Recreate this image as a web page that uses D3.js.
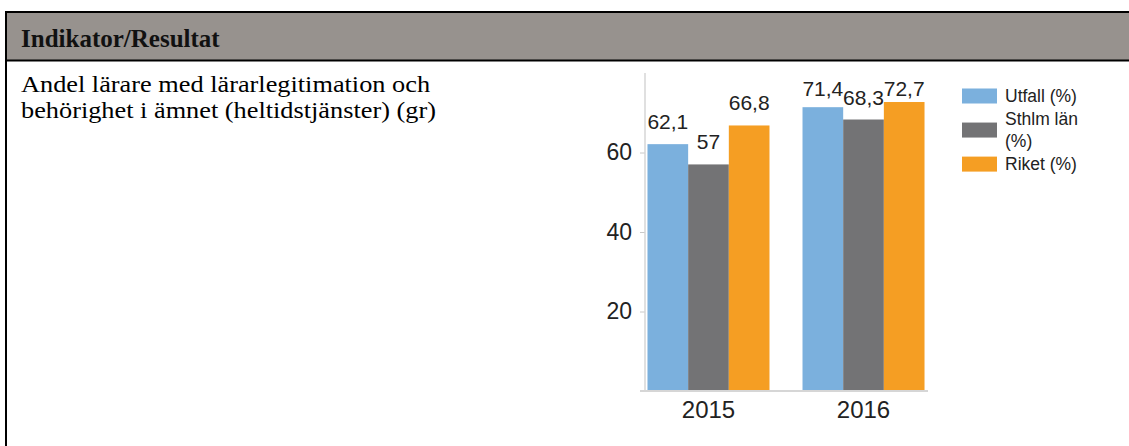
<!DOCTYPE html>
<html>
<head>
<meta charset="utf-8">
<script src="https://cdn.jsdelivr.net/npm/d3@7"></script>
<style>
    body { margin: 0; background: #fff; }
    svg { display: block; }
</style>
</head>
<body>
<svg width="1129" height="446"></svg>
<script>
var years = ["2015", "2016"];
var seriesNames = ["Utfall (%)", "Sthlm län (%)", "Riket (%)"];
var utfall = [62.1, 71.4];
var sthlm = [57, 68.3];
var riket = [66.8, 72.7];
var yTicks = [20, 40, 60];
var legendLines = [["Utfall (%)"], ["Sthlm län", "(%)"], ["Riket (%)"]];
var colors = ["#7bb0dd", "#737375", "#f59e23"];

window.onload = main;

function main() {
    var svg = d3.select("svg");
    var sv = d3.formatLocale({ decimal: ",", thousands: " ", grouping: [3], currency: ["", " kr"] });
    var fmt = sv.format("~g");

    // table look
    svg.append("rect").attr("x", 6).attr("y", 12).attr("width", 1130).attr("height", 48)
        .attr("fill", "#97928e");
    svg.append("line").attr("x1", 5).attr("x2", 1129).attr("y1", 12).attr("y2", 12)
        .attr("stroke", "#000").attr("stroke-width", 2);
    svg.append("line").attr("x1", 5).attr("x2", 1129).attr("y1", 60.5).attr("y2", 60.5)
        .attr("stroke", "#000").attr("stroke-width", 2);
    svg.append("line").attr("x1", 6).attr("x2", 6).attr("y1", 11).attr("y2", 446)
        .attr("stroke", "#000").attr("stroke-width", 2);

    svg.append("text").attr("x", 21).attr("y", 47)
        .style("font", "bold 25px 'Liberation Serif', 'Times New Roman', serif")
        .attr("fill", "#111").text("Indikator/Resultat");

    // cell text, a little wider than Liberation Serif
    var desc = ["Andel lärare med lärarlegitimation och", "behörighet i ämnet (heltidstjänster) (gr)"];
    svg.append("g").attr("transform", "translate(21,0) scale(1.12,1)")
        .selectAll("text").data(desc).enter().append("text")
        .attr("x", 0).attr("y", function (d, i) { return 92 + i * 26; })
        .style("font", "23.5px 'Liberation Serif', 'Times New Roman', serif")
        .attr("fill", "#000").text(function (d) { return d; });

    // chart
    var data = years.map(function (y, i) {
        return { year: y, vals: [utfall[i], sthlm[i], riket[i]] };
    });

    var y = d3.scaleLinear().domain([0, 80]).range([391, 73]);
    var x0 = d3.scaleBand().domain(years).range([645, 927]).paddingInner(0.213).paddingOuter(0.016);
    var x1 = d3.scaleBand().domain(seriesNames).range([0, x0.bandwidth()]);

    var chart = svg.append("g");

    var yAxis = chart.append("g").attr("transform", "translate(645,0)")
        .call(d3.axisLeft(y).tickValues(yTicks).tickSize(5).tickPadding(8));
    yAxis.select(".domain").remove();
    yAxis.selectAll(".tick line").attr("stroke", "#c8c8c8");
    yAxis.selectAll(".tick text")
        .style("font", "23px 'Liberation Sans', Arial, sans-serif").attr("fill", "#222");

    chart.append("line").attr("x1", 645).attr("x2", 645).attr("y1", y(80)).attr("y2", y(0))
        .attr("stroke", "#d6d6d6").attr("stroke-width", 1.5);

    var groups = chart.selectAll("g.grp").data(data).enter().append("g")
        .attr("class", "grp")
        .attr("transform", function (d) { return "translate(" + x0(d.year) + ",0)"; });

    groups.selectAll("rect").data(function (d) { return d.vals; }).enter().append("rect")
        .attr("x", function (d, i) { return x1(seriesNames[i]); })
        .attr("y", function (d) { return y(d); })
        .attr("width", x1.bandwidth())
        .attr("height", function (d) { return y(0) - y(d); })
        .attr("fill", function (d, i) { return colors[i]; });

    groups.selectAll("text").data(function (d) { return d.vals; }).enter().append("text")
        .attr("x", function (d, i) { return x1(seriesNames[i]) + x1.bandwidth() / 2; })
        .attr("y", function (d) { return Math.max(y(d) - 15, y(80) + 23); })
        .attr("text-anchor", "middle")
        .style("font", "21px 'Liberation Sans', Arial, sans-serif")
        .attr("fill", "#222")
        .text(function (d) { return fmt(d); });

    chart.append("line").attr("x1", 640).attr("x2", 928).attr("y1", y(0)).attr("y2", y(0))
        .attr("stroke", "#d6d6d6").attr("stroke-width", 2);

    var xAxis = chart.append("g").attr("transform", "translate(0," + y(0) + ")")
        .call(d3.axisBottom(x0).tickSize(0).tickPadding(9));
    xAxis.select(".domain").remove();
    xAxis.selectAll(".tick text")
        .style("font", "24px 'Liberation Sans', Arial, sans-serif").attr("fill", "#222")
        .attr("dy", "0.75em");

    // legend
    var lh = 22.7;
    var legend = svg.append("g").attr("transform", "translate(962,0)");
    var cursor = 102;
    legendLines.forEach(function (lines, i) {
        var g = legend.append("g");
        lines.forEach(function (t, j) {
            g.append("text").attr("x", 43).attr("y", cursor + j * lh)
                .style("font", "17.5px 'Liberation Sans', Arial, sans-serif")
                .attr("fill", "#222").text(t);
        });
        var mid = cursor - 6 + (lines.length - 1) * lh / 2;
        g.append("rect").attr("x", 0).attr("y", mid - 7.5).attr("width", 35).attr("height", 15)
            .attr("fill", colors[i]);
        cursor += lines.length * lh;
    });
}
</script>
</body>
</html>
